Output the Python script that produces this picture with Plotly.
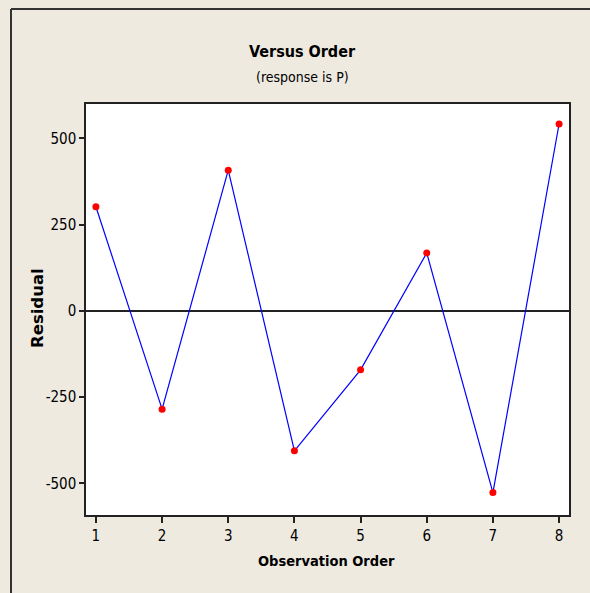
import plotly.graph_objects as go

# Residuals in observation order
order = [1, 2, 3, 4, 5, 6, 7, 8]
residual = [302, -285, 408, -406, -171, 168, -527, 542]

x_ticks = [1, 2, 3, 4, 5, 6, 7, 8]
y_ticks = [-500, -250, 0, 250, 500]
y_tick_text = ["-500", "-250", "0", "250", "500"]

title_text = "Versus Order"
subtitle_text = "(response is P)"
x_label = "Observation Order"
y_label = "Residual"

W, H = 590, 593
L, R, T, B = 86, 21, 104, 78
pw, ph = W - L - R, H - T - B

def px_x(p):
    return (p - L) / pw

def px_y(p):
    return 1 - (p - T) / ph

narrow = "DejaVu Sans Condensed, Liberation Sans Narrow, sans-serif"
bg = "#EEEAE0"

fig = go.Figure()
fig.add_trace(go.Scatter(
    x=order, y=residual, mode="lines+markers",
    line=dict(color="#0000FF", width=1.2),
    marker=dict(color="#FF0000", size=7, line=dict(width=0)),
    hoverinfo="skip", showlegend=False,
))

fig.update_layout(
    width=W, height=H,
    margin=dict(l=L, r=R, t=T, b=B),
    paper_bgcolor=bg, plot_bgcolor="white",
    font=dict(family=narrow, color="black"),
    xaxis=dict(
        range=[0.85, 8.15], tickvals=x_ticks, ticktext=[str(v) for v in x_ticks],
        showgrid=False, zeroline=False, showline=True, mirror=True,
        linecolor="#222", linewidth=1.5, ticks="outside", ticklen=6,
        tickcolor="#222", tickwidth=1.5, tickfont=dict(size=15, family=narrow),
    ),
    yaxis=dict(
        range=[-592, 600], tickvals=y_ticks, ticktext=y_tick_text,
        showgrid=False, zeroline=True, zerolinecolor="#222", zerolinewidth=1.5,
        showline=True, mirror=True, linecolor="#222", linewidth=1.5,
        ticks="outside", ticklen=5, tickcolor="#222", tickwidth=1.5,
        tickfont=dict(size=15, family=narrow),
    ),
)

# outer frame lines along the top and left edges
fig.add_shape(type="line", xref="paper", yref="paper",
              x0=px_x(11), x1=px_x(W + 5), y0=px_y(9), y1=px_y(9),
              line=dict(color="#333", width=2))
fig.add_shape(type="line", xref="paper", yref="paper",
              x0=px_x(11), x1=px_x(11), y0=px_y(9), y1=px_y(H + 5),
              line=dict(color="#333", width=2))

fig.add_annotation(text="<b>" + title_text + "</b>", xref="paper", yref="paper",
                   x=px_x(302), y=px_y(51), showarrow=False,
                   xanchor="center", yanchor="middle",
                   font=dict(size=16, family=narrow))
fig.add_annotation(text=subtitle_text, xref="paper", yref="paper",
                   x=px_x(302), y=px_y(77), showarrow=False,
                   xanchor="center", yanchor="middle",
                   font=dict(size=14, family=narrow))
fig.add_annotation(text="<b>" + x_label + "</b>", xref="paper", yref="paper",
                   x=px_x(326), y=px_y(561), showarrow=False,
                   xanchor="center", yanchor="middle",
                   font=dict(size=14.5, family=narrow))
fig.add_annotation(text="<b>" + y_label + "</b>", xref="paper", yref="paper",
                   x=px_x(37), y=px_y(308), showarrow=False, textangle=-90,
                   xanchor="center", yanchor="middle",
                   font=dict(size=16.5, family="DejaVu Sans, Verdana, sans-serif"))

fig.write_html("out.html")
